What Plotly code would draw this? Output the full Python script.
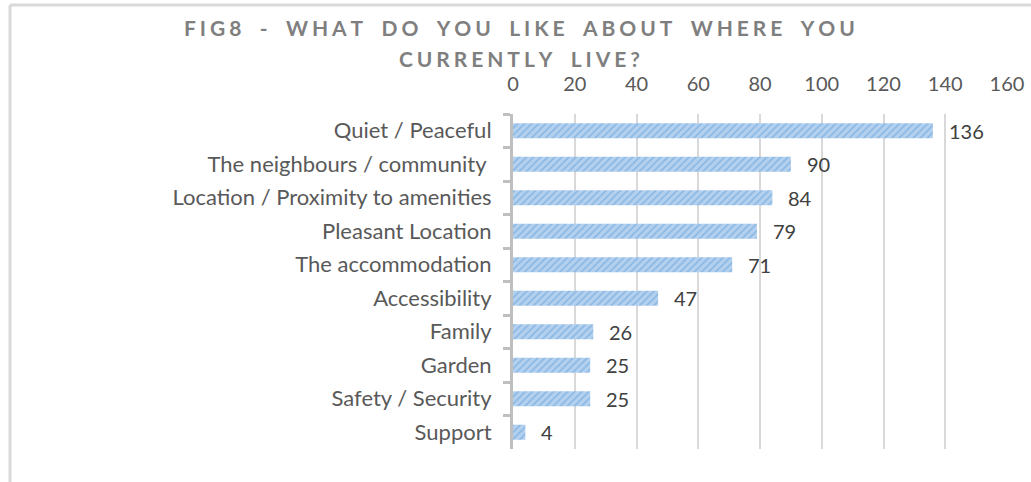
import plotly.graph_objects as go

# Survey responses: what residents like about where they live
categories = [
    "Quiet / Peaceful",
    "The neighbours / community ",
    "Location / Proximity to amenities",
    "Pleasant Location",
    "The accommodation",
    "Accessibility",
    "Family",
    "Garden",
    "Safety / Security",
    "Support",
]
counts = [136, 90, 84, 79, 71, 47, 26, 25, 25, 4]
x_ticks = [0, 20, 40, 60, 80, 100, 120, 140, 160]
title_lines = ["FIG8 - WHAT DO YOU LIKE ABOUT WHERE YOU", "CURRENTLY LIVE?"]

W, H = 1031, 482
M_L, M_R, M_T, M_B = 513, 24, 114, 33
plot_w = W - M_L - M_R
plot_h = H - M_T - M_B


def px_x(px):
    return (px - M_L) / plot_w


def px_y(py):
    return (H - M_B - py) / plot_h


def spaced(s):
    # widen the tracking of the heading text
    out = []
    for ch in s:
        out.append(ch)
        out.append("\u2009\u200a")
    return "".join(out).replace(" ", "\u2002")


FONT = "Lato, 'Open Sans', sans-serif"

fig = go.Figure(
    go.Bar(
        x=counts,
        y=categories,
        orientation="h",
        marker=dict(
            color="#a4c6ea",
            line=dict(width=0),
            pattern=dict(shape="/", fgcolor="#5b9bd5", bgcolor="#b3d0ef",
                         size=5, solidity=0.3),
        ),
        width=0.45,
        hoverinfo="skip",
    )
)

annotations = []
for cat, val in zip(categories, counts):
    annotations.append(dict(
        x=val, y=cat, xref="x", yref="y", text=str(val), showarrow=False,
        xanchor="left", yanchor="middle", xshift=14,
        font=dict(family=FONT, size=20, color="#404040"),
    ))

for i, line in enumerate(title_lines):
    annotations.append(dict(
        x=px_x(521), y=px_y(27 + 31 * i), xref="paper", yref="paper",
        text="<b>" + spaced(line) + "</b>", showarrow=False,
        xanchor="center", yanchor="middle",
        font=dict(family=FONT, size=21, color="#7f7f7f"),
    ))

shapes = [
    dict(type="line", xref="paper", yref="paper",
         x0=px_x(10), x1=px_x(1040), y0=px_y(5), y1=px_y(5),
         line=dict(color="#d9d9d9", width=3)),
    dict(type="line", xref="paper", yref="paper",
         x0=px_x(10), x1=px_x(10), y0=px_y(5), y1=px_y(500),
         line=dict(color="#d9d9d9", width=3)),
]

fig.update_layout(
    width=W, height=H,
    margin=dict(l=M_L, r=M_R, t=M_T, b=M_B, autoexpand=False),
    paper_bgcolor="white", plot_bgcolor="white",
    showlegend=False,
    annotations=annotations,
    shapes=shapes,
    xaxis=dict(
        side="top", range=[0, 160], tickvals=x_ticks,
        showgrid=True, gridcolor="#d9d9d9", gridwidth=2,
        zeroline=False, showline=False, ticks="",
        ticklabelstandoff=18,
        tickfont=dict(family=FONT, size=20, color="#595959"),
    ),
    yaxis=dict(
        autorange="reversed", categoryorder="array", categoryarray=categories,
        showgrid=False, zeroline=False,
        showline=True, linecolor="#bfbfbf", linewidth=3,
        ticks="outside", tickson="boundaries", ticklen=7, tickwidth=3,
        tickcolor="#bfbfbf", ticklabelstandoff=14,
        tickfont=dict(family=FONT, size=22, color="#595959"),
    ),
)

fig.write_html("out.html")
